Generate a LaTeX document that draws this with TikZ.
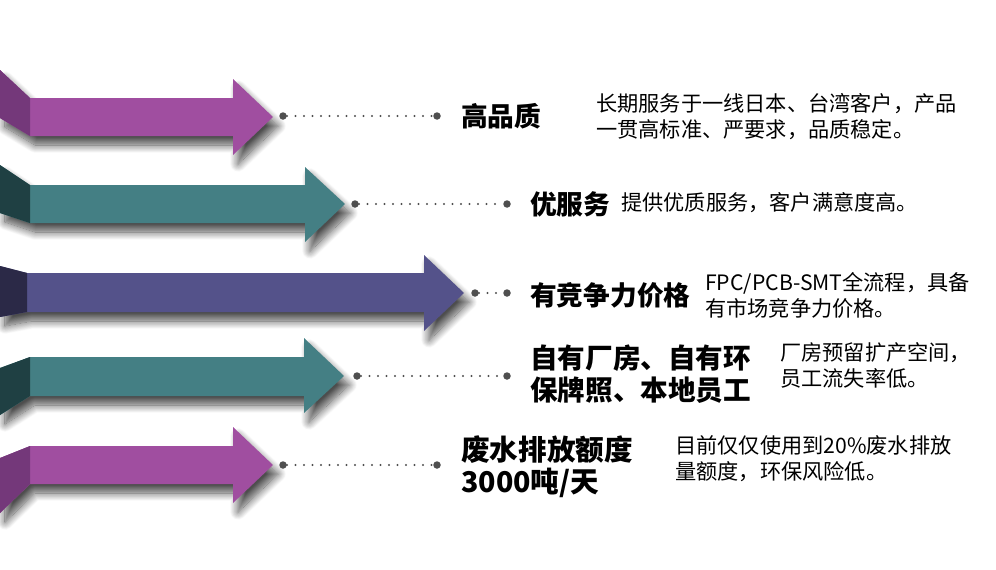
\documentclass[tikz,border=0pt]{standalone}
\usepackage{fontspec}
\setmainfont{Noto Sans CJK SC}
\usetikzlibrary{shadows.blur}
\definecolor{purpleA}{HTML}{A04EA0}
\definecolor{purpleD}{HTML}{74387A}
\definecolor{tealA}{HTML}{447F84}
\definecolor{tealD}{HTML}{1F4043}
\definecolor{navyA}{HTML}{54528A}
\definecolor{navyD}{HTML}{2B2947}
\definecolor{dotgray}{HTML}{4F4F4F}

\begin{document}
\begin{tikzpicture}[x=1pt,y=-1pt,
  arrowshadow/.style={blur shadow={shadow xshift=5pt,shadow yshift=-9pt,shadow blur radius=8pt,shadow blur steps=14,shadow opacity=70}},
  dotend/.style={circle,fill=dotgray,inner sep=0pt,minimum size=7.5pt},
  dotline/.style={dotgray,line width=2.3pt,line cap=round,dash pattern=on 0pt off 8.5pt},
  title/.style={anchor=west,inner sep=0pt,align=left,font=\bfseries\fontsize{26.7}{31.5}\selectfont},
  desc/.style={anchor=west,inner sep=0pt,align=left,font=\fontsize{21.2}{26}\selectfont}]
\useasboundingbox (0,0) rectangle (996,570);
% arrows
\fill[purpleA,arrowshadow] (0,70) -- (30,98) -- (233,98) -- (233,79) -- (273,117) -- (233,155) -- (233,136) -- (30,136) -- (0,118) -- cycle;
\fill[purpleD] (0,70) -- (30,98) -- (30,136) -- (0,118) -- cycle;
\fill[tealA,arrowshadow] (0,165) -- (30,185) -- (305,185) -- (305,167) -- (345,204) -- (305,242) -- (305,223) -- (30,223) -- (0,213) -- cycle;
\fill[tealD] (0,165) -- (30,185) -- (30,223) -- (0,213) -- cycle;
\fill[navyA,arrowshadow] (0,266) -- (27,273) -- (424,273) -- (424,255) -- (464,293) -- (424,331) -- (424,312) -- (27,312) -- (0,317) -- cycle;
\fill[navyD] (0,266) -- (27,273) -- (27,312) -- (0,317) -- cycle;
\fill[tealA,arrowshadow] (0,368) -- (30,357) -- (304,357) -- (304,338) -- (344,376) -- (304,413) -- (304,396) -- (30,396) -- (0,415) -- cycle;
\fill[tealD] (0,368) -- (30,357) -- (30,396) -- (0,415) -- cycle;
\fill[purpleA,arrowshadow] (0,458) -- (30,446) -- (233,446) -- (233,427) -- (273,465) -- (233,503) -- (233,484) -- (30,484) -- (0,513) -- cycle;
\fill[purpleD] (0,458) -- (30,446) -- (30,484) -- (0,513) -- cycle;
% dotted leaders
\node[dotend] (q1a) at (283,116) {};
\node[dotend] (q1b) at (437,116) {};
\node[dotend] (q2a) at (355,204) {};
\node[dotend] (q2b) at (507,204) {};
\node[dotend] (q3a) at (475,293) {};
\node[dotend] (q3b) at (507,293) {};
\node[dotend] (q4a) at (357,376) {};
\node[dotend] (q4b) at (507,376) {};
\node[dotend] (q5a) at (283,465) {};
\node[dotend] (q5b) at (437,465) {};
\draw[dotline] (q1a) -- (q1b);
\draw[dotline] (q2a) -- (q2b);
\draw[dotline] (q3a) -- (q3b);
\draw[dotline] (q4a) -- (q4b);
\draw[dotline] (q5a) -- (q5b);
% labels
\node[title] (t1) at (461,116) {高品质};
\node[desc] (d1) at (596,117) {长期服务于一线日本、台湾客户，产品\\一贯高标准、严要求，品质稳定。};
\node[title] (t2) at (530,204) {优服务};
\node[desc] (d2) at (621,203) {提供优质服务，客户满意度高。};
\node[title] (t3) at (530,295) {有竞争力价格};
\node[desc] (d3) at (705,295) {FPC/PCB-SMT全流程，具备\\有市场竞争力价格。};
\node[title,font=\bfseries\fontsize{27.6}{31.5}\selectfont] (t4) at (530,374) {自有厂房、自有环\\保牌照、本地员工};
\node[desc] (d4) at (780,365) {厂房预留扩产空间，\\员工流失率低。};
\node[title,font=\bfseries\fontsize{28.6}{32}\selectfont] (t5) at (461,467) {废水排放额度\\3000吨/天};
\node[desc] (d5) at (675,459) {目前仅仅使用到20\%废水排放\\量额度，环保风险低。};
\end{tikzpicture}
\end{document}
